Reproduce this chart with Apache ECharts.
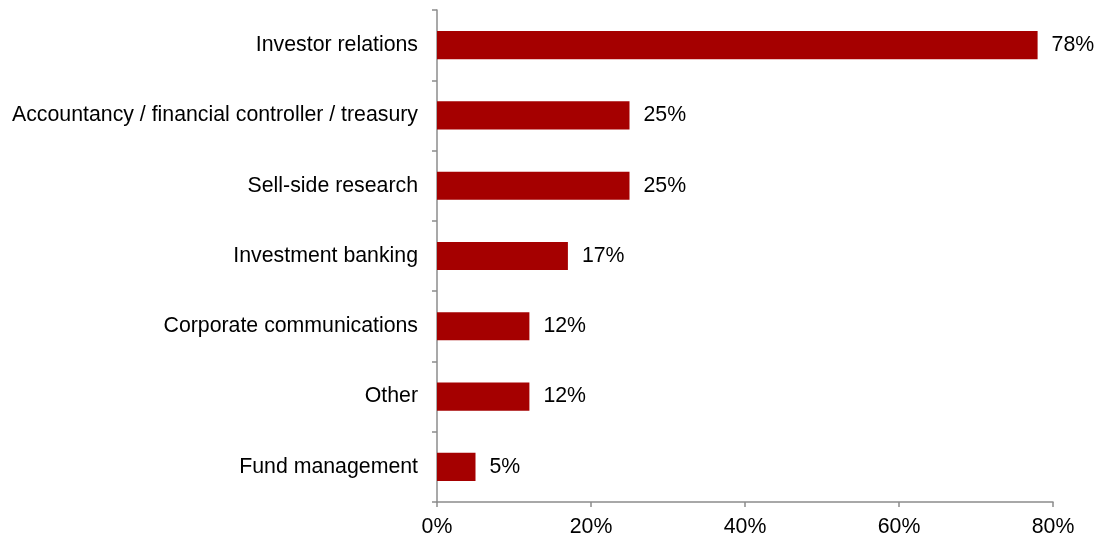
<!DOCTYPE html>
<html>
<head>
<meta charset="utf-8">
<script src="https://cdn.jsdelivr.net/npm/echarts@6/dist/echarts.min.js"></script>
<style>
  html, body { margin: 0; padding: 0; background: #fff; }
  #chart { width: 1100px; height: 540px; }
</style>
</head>
<body>
<div id="chart"></div>
<script>
// Functions people held before their current role (% of respondents)
const categories = [
  'Investor relations',
  'Accountancy / financial controller / treasury',
  'Sell-side research',
  'Investment banking',
  'Corporate communications',
  'Other',
  'Fund management'
];
const shares = [78, 25, 25, 17, 12, 12, 5];
const xTicks = [0, 20, 40, 60, 80];

const FONT = 'Liberation Sans, Arial, sans-serif';
const FONT_SIZE = 21.3;
const AXIS_GREY = '#8c8c8c';

const chart = echarts.init(document.getElementById('chart'), null, { renderer: 'canvas' });
chart.setOption({
  animation: false,
  grid: { left: 437, right: 47, top: 10, bottom: 38, containLabel: false },
  xAxis: {
    type: 'value',
    min: xTicks[0],
    max: xTicks[xTicks.length - 1],
    interval: xTicks[1] - xTicks[0],
    axisLine: { show: true, lineStyle: { color: AXIS_GREY, width: 1.5 } },
    axisTick: { show: true, length: 5, lineStyle: { color: AXIS_GREY, width: 1.5 } },
    splitLine: { show: false },
    axisLabel: {
      margin: 15,
      color: '#000',
      fontFamily: FONT,
      fontSize: FONT_SIZE,
      formatter: v => v + '%'
    }
  },
  yAxis: {
    type: 'category',
    data: categories,
    inverse: true,
    axisLine: { show: true, lineStyle: { color: AXIS_GREY, width: 1.5 } },
    axisTick: { show: true, length: 5, inside: false, lineStyle: { color: AXIS_GREY, width: 1.5 } },
    axisLabel: {
      margin: 19,
      color: '#000',
      fontFamily: FONT,
      fontSize: FONT_SIZE
    }
  },
  series: [{
    type: 'bar',
    data: shares,
    barCategoryGap: '60%',
    itemStyle: { color: '#a50000' },
    label: {
      show: true,
      position: 'right',
      distance: 14,
      color: '#000',
      fontFamily: FONT,
      fontSize: FONT_SIZE,
      formatter: p => p.value + '%'
    }
  }]
});
</script>
</body>
</html>
